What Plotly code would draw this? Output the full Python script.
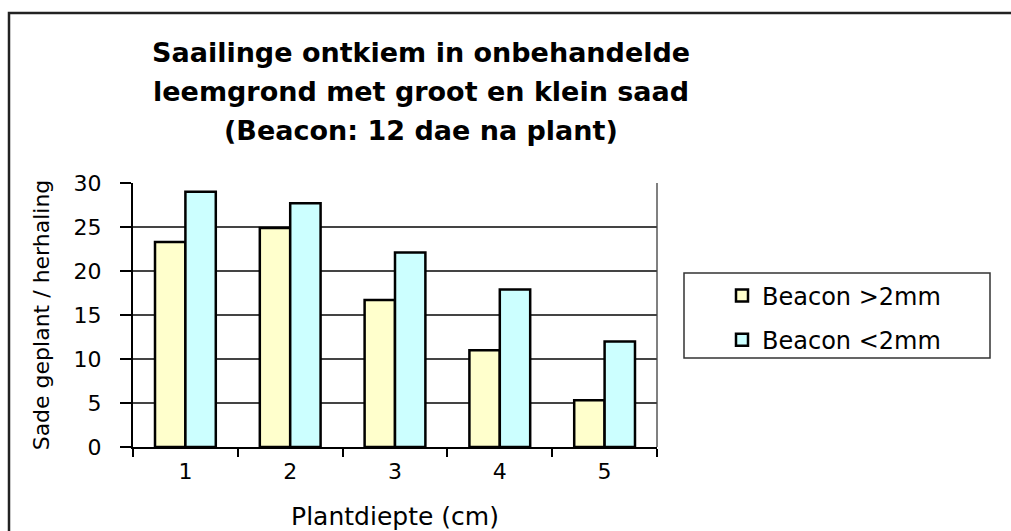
import plotly.graph_objects as go

categories = ["1", "2", "3", "4", "5"]
series_names = ["Beacon >2mm", "Beacon <2mm"]
large_seed = [23.3, 24.9, 16.7, 11.0, 5.3]
small_seed = [29.0, 27.7, 22.1, 17.9, 12.0]
y_ticks = [0, 5, 10, 15, 20, 25, 30]

FONT = "DejaVu Sans, Arial, sans-serif"
W, H = 1011, 531
L, R, T, B = 133, 354, 183, 84
pw, ph = W - L - R, H - T - B

fig = go.Figure()
fig.add_trace(go.Bar(x=categories, y=large_seed, name=series_names[0], legendgroup="a",
                     marker=dict(color="#FFFFCC", line=dict(color="black", width=2.5))))
fig.add_trace(go.Bar(x=categories, y=small_seed, name=series_names[1], legendgroup="b",
                     marker=dict(color="#CCFFFF", line=dict(color="black", width=2.5))))

def px_x(x):
    return (x - L) / pw

def px_y(y):
    return (H - B - y) / ph

title_lines = ["Saailinge ontkiem in onbehandelde",
               "leemgrond met groot en klein saad",
               "(Beacon: 12 dae na plant)"]
annotations = []
for i, line in enumerate(title_lines):
    annotations.append(dict(text="<b>%s</b>" % line, x=px_x(421), y=px_y(52 + 39 * i),
                            xref="paper", yref="paper", showarrow=False,
                            xanchor="center", yanchor="middle",
                            font=dict(family=FONT, size=27, color="black")))

shapes = [
    # outer chart frame
    dict(type="rect", xref="paper", yref="paper", x0=px_x(9), y0=px_y(560), x1=px_x(1040), y1=px_y(13),
         line=dict(color="#222", width=2.5), fillcolor="rgba(0,0,0,0)", layer="below"),
    # plot area border (gray)
    dict(type="line", xref="paper", yref="paper", x0=1, x1=1, y0=0, y1=1,
         line=dict(color="#808080", width=2), layer="below"),
    # legend box
    dict(type="rect", xref="paper", yref="paper", x0=px_x(684), y0=px_y(358), x1=px_x(990), y1=px_y(273),
         line=dict(color="#333", width=1.5), fillcolor="white", layer="below"),
]

fig.update_layout(
    width=W, height=H,
    margin=dict(l=L, r=R, t=T, b=B, pad=0, autoexpand=False),
    paper_bgcolor="white", plot_bgcolor="white",
    barmode="group", bargap=0.42, bargroupgap=0,
    showlegend=True,
    legend=dict(x=px_x(722), y=px_y(318), xanchor="left", yanchor="middle",
                borderwidth=0, bgcolor="rgba(0,0,0,0)",
                font=dict(family=FONT, size=24, color="black"),
                itemwidth=30, tracegroupgap=10),
    annotations=annotations,
    shapes=shapes,
    font=dict(family=FONT, color="black"),
)
fig.update_xaxes(
    type="category", tickson="boundaries", ticks="outside", ticklen=8, tickwidth=1.5,
    tickcolor="black", showline=True, linecolor="black", linewidth=2, automargin=False,
    tickfont=dict(family=FONT, size=22, color="black"), ticklabelstandoff=4,
    title=dict(text="Plantdiepte (cm)", font=dict(family=FONT, size=25, color="black"), standoff=26),
    showgrid=False,
)
fig.update_yaxes(
    range=[0, 30], tickvals=y_ticks, ticks="outside", ticklen=11, tickwidth=1.5,
    tickcolor="black", showline=True, linecolor="black", linewidth=2, automargin=False,
    tickfont=dict(family=FONT, size=22, color="black"), ticklabelstandoff=14,
    showgrid=True, gridcolor="#444", gridwidth=1.5,
    title=dict(text="Sade geplant / herhaling", font=dict(family=FONT, size=22, color="black"), standoff=18),
    zeroline=False,
)

fig.write_html("out.html", post_script="document.body.style.margin='0px';",
               config={"displayModeBar": False})
